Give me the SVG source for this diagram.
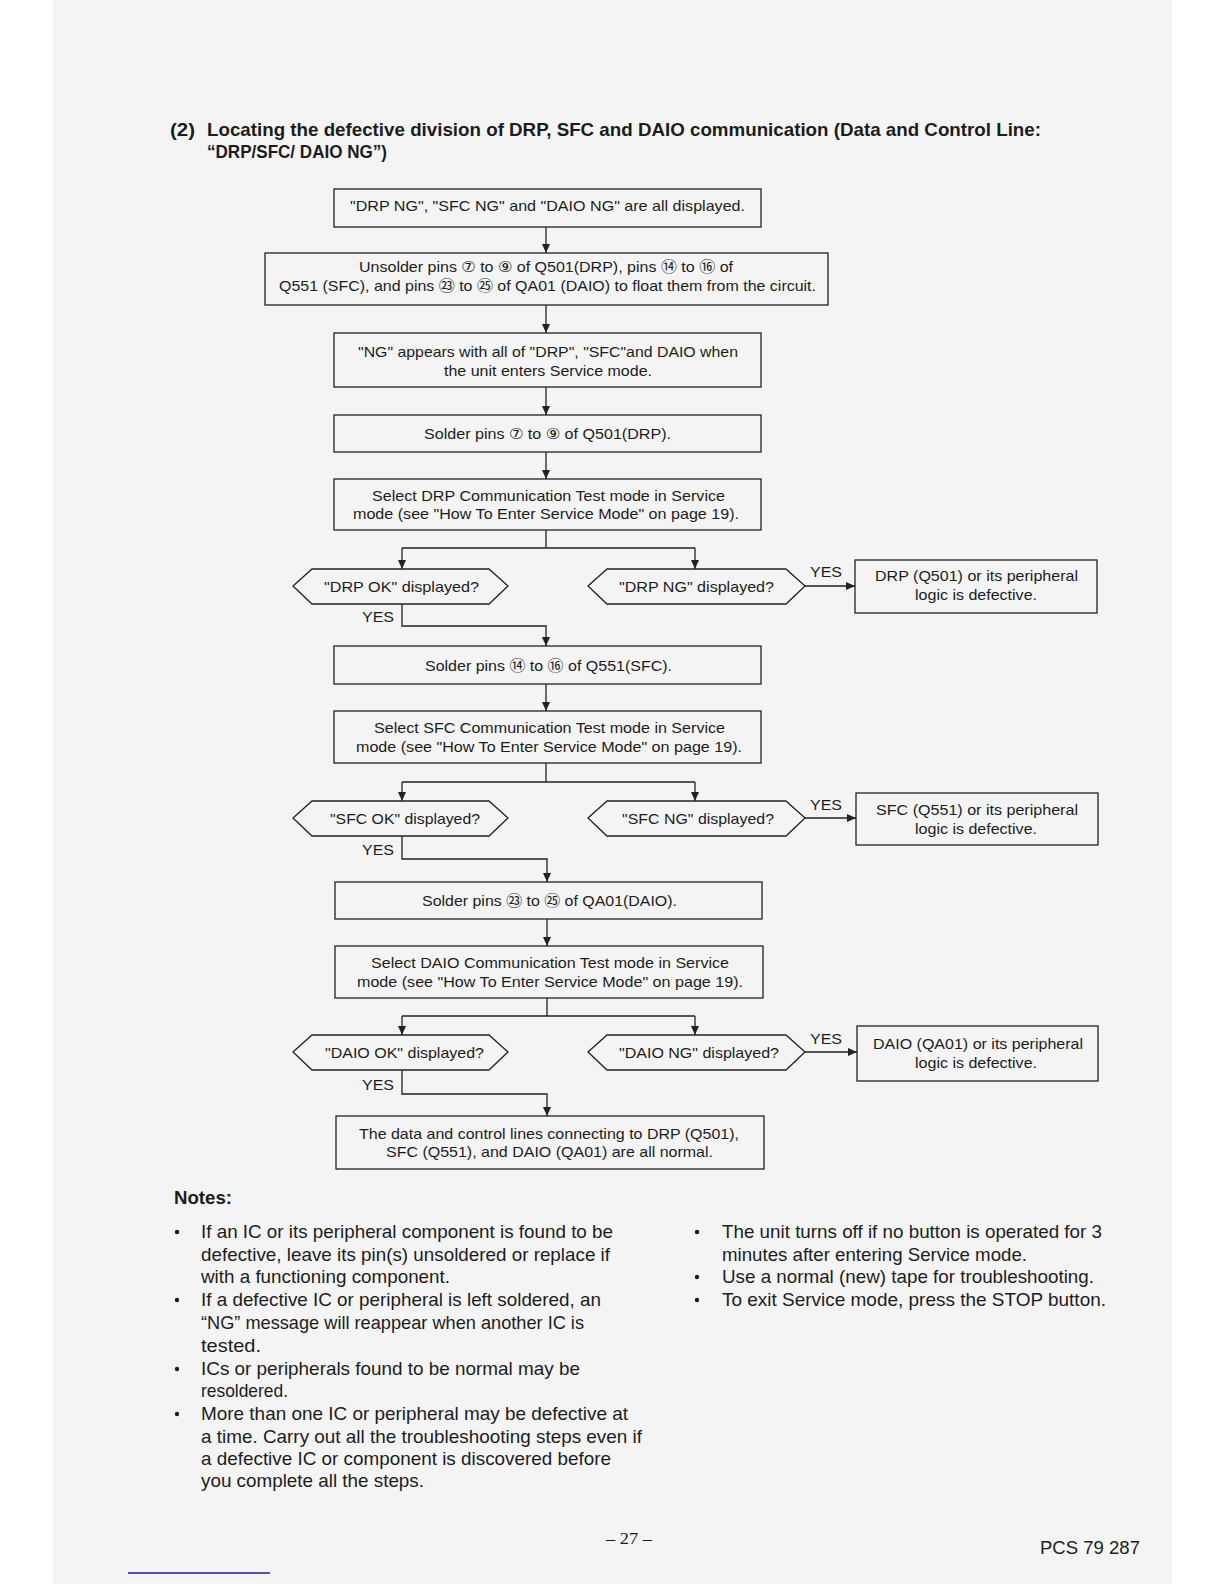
<svg xmlns="http://www.w3.org/2000/svg" width="1224" height="1584" viewBox="0 0 1224 1584">
<style>
.t{font-family:"Liberation Sans","DejaVu Sans","Noto Sans CJK JP",sans-serif;font-size:15px;fill:#1c1c1c}
.n{font-family:"Liberation Sans","DejaVu Sans",sans-serif;font-size:19px;fill:#1c1c1c}
.h{font-family:"Liberation Sans","DejaVu Sans",sans-serif;font-size:19px;font-weight:bold;fill:#1c1c1c}
.box{fill:none;stroke:#222;stroke-width:1.3}
.conn path,.conn line{fill:none;stroke:#222;stroke-width:1.3}
</style>
<defs>
<marker id="ah" markerUnits="userSpaceOnUse" markerWidth="9" markerHeight="8" refX="9" refY="4" orient="auto">
<path d="M0,0 L9,4 L0,8 z" fill="#222"/>
</marker>
</defs>
<rect x="0" y="0" width="1224" height="1584" fill="#ffffff"/>
<rect x="53" y="0" width="1119" height="1584" fill="#f4f4f4"/>

<g id="title">
<text class="h" x="170" y="136" textLength="25" lengthAdjust="spacingAndGlyphs">(2)</text>
<text class="h" x="207" y="136" textLength="834" lengthAdjust="spacingAndGlyphs">Locating the defective division of DRP, SFC and DAIO communication (Data and Control Line:</text>
<text class="h" x="207" y="158" textLength="180" lengthAdjust="spacingAndGlyphs">“DRP/SFC/ DAIO NG”)</text>
</g>

<g class="conn" id="connectors">
<line x1="546" y1="227" x2="546" y2="253" marker-end="url(#ah)"/>
<line x1="546" y1="305" x2="546" y2="333" marker-end="url(#ah)"/>
<line x1="546" y1="387" x2="546" y2="415" marker-end="url(#ah)"/>
<line x1="546" y1="452" x2="546" y2="479" marker-end="url(#ah)"/>
<path d="M546,530 V548 M402,548 H695"/>
<line x1="402" y1="548" x2="402" y2="569" marker-end="url(#ah)"/>
<line x1="695" y1="548" x2="695" y2="569" marker-end="url(#ah)"/>
<line x1="805" y1="586" x2="855" y2="586" marker-end="url(#ah)"/>
<path d="M402,604 V626 H546 V646" marker-end="url(#ah)"/>
<line x1="546" y1="684" x2="546" y2="711" marker-end="url(#ah)"/>
<path d="M546,763 V782 M402,782 H695"/>
<line x1="402" y1="782" x2="402" y2="801" marker-end="url(#ah)"/>
<line x1="695" y1="782" x2="695" y2="801" marker-end="url(#ah)"/>
<line x1="805" y1="818" x2="856" y2="818" marker-end="url(#ah)"/>
<path d="M402,836 V859 H547 V882" marker-end="url(#ah)"/>
<line x1="547" y1="919" x2="547" y2="946" marker-end="url(#ah)"/>
<path d="M547,998 V1016 M402,1016 H695"/>
<line x1="402" y1="1016" x2="402" y2="1035" marker-end="url(#ah)"/>
<line x1="695" y1="1016" x2="695" y2="1035" marker-end="url(#ah)"/>
<line x1="805" y1="1052" x2="857" y2="1052" marker-end="url(#ah)"/>
<path d="M402,1070 V1094 H547 V1116" marker-end="url(#ah)"/>
<text class="t" x="810" y="576.5" textLength="32" lengthAdjust="spacingAndGlyphs">YES</text>
<text class="t" x="362" y="621.5" textLength="32" lengthAdjust="spacingAndGlyphs">YES</text>
<text class="t" x="810" y="809.5" textLength="32" lengthAdjust="spacingAndGlyphs">YES</text>
<text class="t" x="362" y="854.5" textLength="32" lengthAdjust="spacingAndGlyphs">YES</text>
<text class="t" x="810" y="1043.5" textLength="32" lengthAdjust="spacingAndGlyphs">YES</text>
<text class="t" x="362" y="1089.5" textLength="32" lengthAdjust="spacingAndGlyphs">YES</text>
</g>

<g id="n1">
<rect class="box" x="334" y="189" width="427" height="38"/>
<text class="t" x="350" y="211" textLength="395" lengthAdjust="spacingAndGlyphs">"DRP NG", "SFC NG" and "DAIO NG" are all displayed.</text>
</g>
<g id="n2">
<rect class="box" x="265" y="253" width="563" height="52"/>
<text class="t" x="359" y="271.5" textLength="374" lengthAdjust="spacingAndGlyphs">Unsolder pins ⑦ to ⑨ of Q501(DRP), pins ⑭ to ⑯ of</text>
<text class="t" x="279" y="290.5" textLength="537" lengthAdjust="spacingAndGlyphs">Q551 (SFC), and pins ㉓ to ㉕ of QA01 (DAIO) to float them from the circuit.</text>
</g>
<g id="n3">
<rect class="box" x="334" y="333" width="427" height="54"/>
<text class="t" x="358" y="356.5" textLength="380" lengthAdjust="spacingAndGlyphs">"NG" appears with all of "DRP", "SFC"and DAIO when</text>
<text class="t" x="444" y="376" textLength="208" lengthAdjust="spacingAndGlyphs">the unit enters Service mode.</text>
</g>
<g id="n4">
<rect class="box" x="334" y="415" width="427" height="37"/>
<text class="t" x="424" y="438.5" textLength="247" lengthAdjust="spacingAndGlyphs">Solder pins ⑦ to ⑨ of Q501(DRP).</text>
</g>
<g id="n5">
<rect class="box" x="334" y="479" width="427" height="51"/>
<text class="t" x="372" y="500.5" textLength="353" lengthAdjust="spacingAndGlyphs">Select DRP Communication Test mode in Service</text>
<text class="t" x="353" y="518.5" textLength="386" lengthAdjust="spacingAndGlyphs">mode (see "How To Enter Service Mode" on page 19).</text>
</g>
<g id="d1">
<polygon class="box" points="293,586 312,569 489,569 508,586 489,604 312,604"/>
<text class="t" x="324" y="591.5" textLength="155" lengthAdjust="spacingAndGlyphs">"DRP OK" displayed?</text>
</g>
<g id="d2">
<polygon class="box" points="588,586 607,569 786,569 805,586 786,604 607,604"/>
<text class="t" x="619" y="591.5" textLength="155" lengthAdjust="spacingAndGlyphs">"DRP NG" displayed?</text>
</g>
<g id="r1">
<rect class="box" x="855" y="560" width="242" height="53"/>
<text class="t" x="875" y="580.5" textLength="203" lengthAdjust="spacingAndGlyphs">DRP (Q501) or its peripheral</text>
<text class="t" x="915" y="599.5" textLength="122" lengthAdjust="spacingAndGlyphs">logic is defective.</text>
</g>
<g id="n6">
<rect class="box" x="334" y="646" width="427" height="38"/>
<text class="t" x="425" y="670.5" textLength="247" lengthAdjust="spacingAndGlyphs">Solder pins ⑭ to ⑯ of Q551(SFC).</text>
</g>
<g id="n7">
<rect class="box" x="334" y="711" width="427" height="52"/>
<text class="t" x="374" y="732.5" textLength="351" lengthAdjust="spacingAndGlyphs">Select SFC Communication Test mode in Service</text>
<text class="t" x="356" y="751.5" textLength="386" lengthAdjust="spacingAndGlyphs">mode (see "How To Enter Service Mode" on page 19).</text>
</g>
<g id="d3">
<polygon class="box" points="293,818 312,801 489,801 508,818 489,836 312,836"/>
<text class="t" x="330" y="823.5" textLength="150" lengthAdjust="spacingAndGlyphs">"SFC OK" displayed?</text>
</g>
<g id="d4">
<polygon class="box" points="588,818 607,801 786,801 805,818 786,836 607,836"/>
<text class="t" x="622" y="823.5" textLength="152" lengthAdjust="spacingAndGlyphs">"SFC NG" displayed?</text>
</g>
<g id="r2">
<rect class="box" x="856" y="793" width="242" height="52"/>
<text class="t" x="876" y="814.5" textLength="202" lengthAdjust="spacingAndGlyphs">SFC (Q551) or its peripheral</text>
<text class="t" x="915" y="833.5" textLength="122" lengthAdjust="spacingAndGlyphs">logic is defective.</text>
</g>
<g id="n8">
<rect class="box" x="335" y="882" width="427" height="37"/>
<text class="t" x="422" y="905.5" textLength="255" lengthAdjust="spacingAndGlyphs">Solder pins ㉓ to ㉕ of QA01(DAIO).</text>
</g>
<g id="n9">
<rect class="box" x="335" y="946" width="428" height="52"/>
<text class="t" x="371" y="967.5" textLength="358" lengthAdjust="spacingAndGlyphs">Select DAIO Communication Test mode in Service</text>
<text class="t" x="357" y="986.5" textLength="386" lengthAdjust="spacingAndGlyphs">mode (see "How To Enter Service Mode" on page 19).</text>
</g>
<g id="d5">
<polygon class="box" points="293,1052 312,1035 489,1035 508,1052 489,1070 312,1070"/>
<text class="t" x="325" y="1057.5" textLength="159" lengthAdjust="spacingAndGlyphs">"DAIO OK" displayed?</text>
</g>
<g id="d6">
<polygon class="box" points="588,1052 607,1035 786,1035 805,1052 786,1070 607,1070"/>
<text class="t" x="619" y="1057.5" textLength="160" lengthAdjust="spacingAndGlyphs">"DAIO NG" displayed?</text>
</g>
<g id="r3">
<rect class="box" x="857" y="1026" width="241" height="55"/>
<text class="t" x="873" y="1048.5" textLength="210" lengthAdjust="spacingAndGlyphs">DAIO (QA01) or its peripheral</text>
<text class="t" x="915" y="1067.5" textLength="122" lengthAdjust="spacingAndGlyphs">logic is defective.</text>
</g>
<g id="n10">
<rect class="box" x="336" y="1116" width="428" height="53"/>
<text class="t" x="359" y="1138.5" textLength="380" lengthAdjust="spacingAndGlyphs">The data and control lines connecting to DRP (Q501),</text>
<text class="t" x="386" y="1156.5" textLength="327" lengthAdjust="spacingAndGlyphs">SFC (Q551), and DAIO (QA01) are all normal.</text>
</g>

<g id="notes">
<text class="h" x="174" y="1204" font-size="20" textLength="58" lengthAdjust="spacingAndGlyphs">Notes:</text>
<g fill="#1c1c1c">
<circle cx="177" cy="1232" r="2.2"/>
<circle cx="177" cy="1300" r="2.2"/>
<circle cx="177" cy="1369" r="2.2"/>
<circle cx="177" cy="1414" r="2.2"/>
<circle cx="697" cy="1232" r="2.2"/>
<circle cx="697" cy="1277" r="2.2"/>
<circle cx="697" cy="1300" r="2.2"/>
</g>
<text class="n" x="201" y="1238" textLength="412" lengthAdjust="spacingAndGlyphs">If an IC or its peripheral component is found to be</text>
<text class="n" x="201" y="1261" textLength="409" lengthAdjust="spacingAndGlyphs">defective, leave its pin(s) unsoldered or replace if</text>
<text class="n" x="201" y="1283" textLength="249" lengthAdjust="spacingAndGlyphs">with a functioning component.</text>
<text class="n" x="201" y="1306" textLength="400" lengthAdjust="spacingAndGlyphs">If a defective IC or peripheral is left soldered, an</text>
<text class="n" x="201" y="1329" textLength="383" lengthAdjust="spacingAndGlyphs">“NG” message will reappear when another IC is</text>
<text class="n" x="201" y="1352" textLength="60" lengthAdjust="spacingAndGlyphs">tested.</text>
<text class="n" x="201" y="1375" textLength="379" lengthAdjust="spacingAndGlyphs">ICs or peripherals found to be normal may be</text>
<text class="n" x="201" y="1397" textLength="87" lengthAdjust="spacingAndGlyphs">resoldered.</text>
<text class="n" x="201" y="1420" textLength="427" lengthAdjust="spacingAndGlyphs">More than one IC or peripheral may be defective at</text>
<text class="n" x="201" y="1443" textLength="441" lengthAdjust="spacingAndGlyphs">a time. Carry out all the troubleshooting steps even if</text>
<text class="n" x="201" y="1465" textLength="410" lengthAdjust="spacingAndGlyphs">a defective IC or component is discovered before</text>
<text class="n" x="201" y="1487" textLength="223" lengthAdjust="spacingAndGlyphs">you complete all the steps.</text>
<text class="n" x="722" y="1238" textLength="380" lengthAdjust="spacingAndGlyphs">The unit turns off if no button is operated for 3</text>
<text class="n" x="722" y="1261" textLength="305" lengthAdjust="spacingAndGlyphs">minutes after entering Service mode.</text>
<text class="n" x="722" y="1283" textLength="372" lengthAdjust="spacingAndGlyphs">Use a normal (new) tape for troubleshooting.</text>
<text class="n" x="722" y="1306" textLength="384" lengthAdjust="spacingAndGlyphs">To exit Service mode, press the STOP button.</text>
</g>

<g id="footer">
<text x="606" y="1544" font-family="Liberation Serif, serif" font-size="17" fill="#1c1c1c" textLength="46" lengthAdjust="spacingAndGlyphs">– 27 –</text>
<text class="n" x="1040" y="1554" font-size="18" textLength="100" lengthAdjust="spacingAndGlyphs">PCS 79 287</text>
<line x1="128" y1="1573" x2="270" y2="1573" stroke="#1a1aa0" stroke-width="1.5"/>
</g>
</svg>
